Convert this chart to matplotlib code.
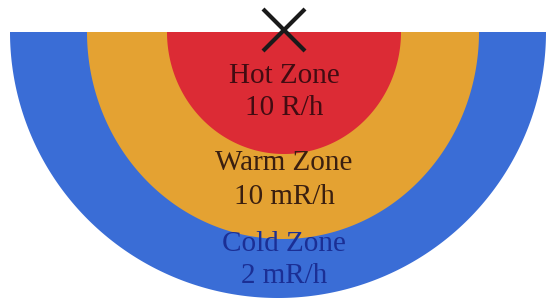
import numpy as np
import matplotlib.pyplot as plt

# zones, outer to inner
zone_names = ["Cold Zone", "Warm Zone", "Hot Zone"]
zone_doses = ["2 mR/h", "10 mR/h", "10 R/h"]
zone_colors = ["#3a6dd6", "#e4a232", "#dc2b35"]
text_colors = ["#1b2f95", "#3a1f10", "#420c12"]
half_widths = [268, 196, 117]
depths = [266, 207, 122]
centers_x = [278, 283, 284]
label_y = [(244, 276), (163, 197), (76, 108)]

top = 32
src_x = 284


def main():
    fig = plt.figure(figsize=(5.51, 2.99), dpi=100)
    ax = fig.add_axes([0, 0, 1, 1])
    ax.set_xlim(0, 551)
    ax.set_ylim(299, 0)
    ax.axis("off")

    t = np.linspace(0, np.pi, 400)
    for a, b, cx, col in zip(half_widths, depths, centers_x, zone_colors):
        xs = cx + a * np.cos(t)
        ys = top + b * np.sin(t)
        ax.fill(xs, ys, color=col, lw=0)

    for name, dose, (y1, y2), tc in zip(zone_names, zone_doses, label_y, text_colors):
        ax.text(src_x, y1, name, ha="center", va="center", fontsize=21,
                family="Liberation Serif", color=tc)
        ax.text(src_x, y2, dose, ha="center", va="center", fontsize=21,
                family="Liberation Serif", color=tc)

    # source marker
    ax.plot([src_x], [30], marker="x", markersize=30, mew=3, color="#1a1a1a")

    fig.savefig("out.png", dpi=100)


if __name__ == "__main__":
    main()
